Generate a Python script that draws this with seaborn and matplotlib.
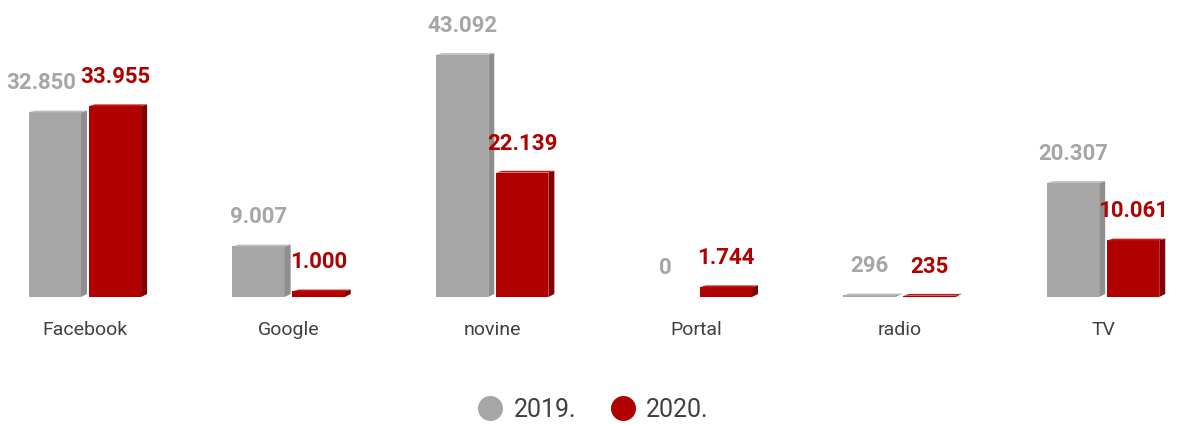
import pandas as pd
import seaborn as sns
import matplotlib.pyplot as plt
from matplotlib.patches import Polygon
from matplotlib.lines import Line2D

kanali = ['Facebook', 'Google', 'novine', 'Portal', 'radio', 'TV']
godine = ['2019.', '2020.']
vrijednosti_2019 = [32850, 9007, 43092, 0, 296, 20307]
vrijednosti_2020 = [33955, 1000, 22139, 1744, 235, 10061]

siva = '#A6A6A6'
crvena = '#B00000'
boje = {'2019.': (siva, '#8E8E8E', '#BEBEBE'),
        '2020.': (crvena, '#840000', '#C41A1A')}

df = pd.DataFrame({
    'kanal': kanali * 2,
    'godina': [godine[0]] * len(kanali) + [godine[1]] * len(kanali),
    'vrijednost': vrijednosti_2019 + vrijednosti_2020,
})

plt.rcParams['font.family'] = ['Roboto', 'DejaVu Sans']

fig = plt.figure(figsize=(11.77, 4.25), dpi=100)
ax = fig.add_axes([0, (425 - 297) / 425, 1, 297 / 425])

sns.barplot(data=df, x='kanal', y='vrijednost', hue='godina',
            palette=[siva, crvena], width=0.59, gap=0.13,
            ax=ax, legend=False, saturation=1, edgecolor='none')

ax.set_xlim(-0.417, 5.363)
ax.set_ylim(0, 52850)
fig.canvas.draw()

# 3D look: side and top faces, sizes in pixels
inv = ax.transData.inverted()
x0, y0 = inv.transform((0, 0))
x1, y1 = inv.transform((6, 3))
dx, dy = x1 - x0, y1 - y0

for i, patch in enumerate(ax.patches):
    god = godine[i // len(kanali)]
    front, side, top = boje[god]
    x, w, h = patch.get_x(), patch.get_width(), patch.get_height()
    if h > 0:
        ax.add_patch(Polygon([(x + w, 0), (x + w + dx, dy), (x + w + dx, h + dy * 0.6),
                              (x + w, h)], closed=True, facecolor=side, edgecolor='none'))
        ax.add_patch(Polygon([(x, h), (x + dx, h + dy * 0.6), (x + w + dx, h + dy * 0.6),
                              (x + w, h)], closed=True, facecolor=top, edgecolor='none'))
    tekst = f'{int(h):,}'.replace(',', '.')
    pomak = -10 if (god == '2019.' and kanali[i % len(kanali)] == 'Facebook') else 0
    ax.annotate(tekst, (x + w / 2, h), xytext=(pomak, 13), textcoords='offset points',
                ha='center', va='bottom', fontsize=16, fontweight='bold',
                color=front)

ax.set_xlabel('')
ax.set_ylabel('')
ax.set_yticks([])
ax.tick_params(axis='x', length=0, pad=17, labelsize=14, labelcolor='#404040')
for s in ax.spines.values():
    s.set_visible(False)

ruke = [Line2D([], [], marker='o', linestyle='none', markersize=18,
               markerfacecolor=boje[g][0], markeredgecolor='none', label=g)
        for g in godine]
fig.legend(handles=ruke, loc='center', bbox_to_anchor=(0.504, 0.035), ncol=2,
           frameon=False, fontsize=18, handlelength=1.0, handletextpad=0.45,
           columnspacing=1.35, labelcolor='#404040')

fig.savefig('out.png', dpi=100)
